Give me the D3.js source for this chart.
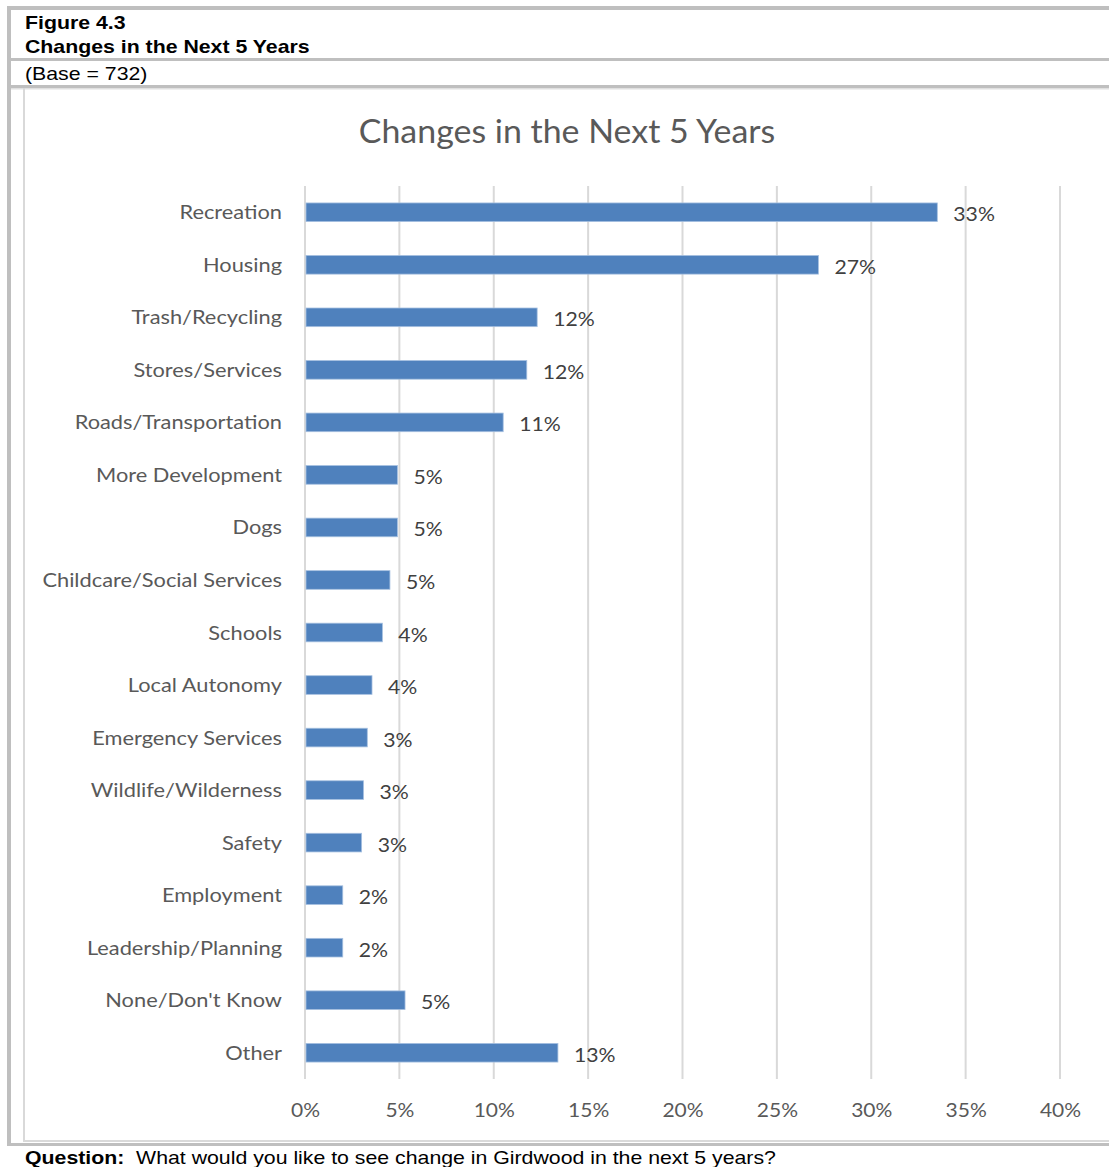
<!DOCTYPE html>
<html><head><meta charset="utf-8">
<script src="https://cdn.jsdelivr.net/npm/d3@7"></script>
<style>body{margin:0;background:#fff}svg{display:block}</style>
</head><body>
<script>
const categories = ["Recreation","Housing","Trash/Recycling","Stores/Services","Roads/Transportation","More Development","Dogs","Childcare/Social Services","Schools","Local Autonomy","Emergency Services","Wildlife/Wilderness","Safety","Employment","Leadership/Planning","None/Don't Know","Other"];
const values = [33.5,27.2,12.3,11.75,10.5,4.9,4.9,4.5,4.1,3.55,3.3,3.1,3.0,2.0,2.0,5.3,13.4];
const valueLabels = ["33%","27%","12%","12%","11%","5%","5%","5%","4%","4%","3%","3%","3%","2%","2%","5%","13%"];
const tickValues = [0,5,10,15,20,25,30,35,40];

const W=1109,H=1167;
const svg=d3.select("body").append("svg").attr("width",W).attr("height",H);

function stretch(sel,f){
  sel.each(function(){
    const l=this.getComputedTextLength();
    d3.select(this).attr("textLength",l*f).attr("lengthAdjust","spacingAndGlyphs");
  });
}

// frame lines
const g0=svg.append("g");
g0.append("rect").attr("x",7).attr("y",6).attr("width",W-7).attr("height",4).attr("fill","#bfbfbf");
g0.append("rect").attr("x",7).attr("y",58).attr("width",W-7).attr("height",3).attr("fill","#bfbfbf");
g0.append("rect").attr("x",7).attr("y",85).attr("width",W-7).attr("height",3).attr("fill","#bfbfbf");
g0.append("rect").attr("x",11).attr("y",88).attr("width",W-11).attr("height",1.5).attr("fill","#e0e0e0");
g0.append("rect").attr("x",7).attr("y",6).attr("width",4).attr("height",1140).attr("fill","#bfbfbf");
g0.append("rect").attr("x",23).attr("y",88).attr("width",2).attr("height",1052).attr("fill","#d9d9d9");
g0.append("rect").attr("x",23).attr("y",1140).attr("width",W-23).attr("height",2).attr("fill","#d9d9d9");
g0.append("rect").attr("x",7).attr("y",1143).attr("width",W-7).attr("height",3).attr("fill","#bfbfbf");

const hdr="'Liberation Sans', Arial, sans-serif";
const h1=svg.append("text").attr("x",25).attr("y",29).attr("font-family",hdr).attr("font-weight","bold").attr("font-size",18.5).attr("fill","#000").text("Figure 4.3");
const h2=svg.append("text").attr("x",25).attr("y",53).attr("font-family",hdr).attr("font-weight","bold").attr("font-size",18.5).attr("fill","#000").text("Changes in the Next 5 Years");
const h3=svg.append("text").attr("x",25).attr("y",80).attr("font-family",hdr).attr("font-size",18.5).attr("fill","#000").text("(Base = 732)");
stretch(h1,1.15); stretch(h2,1.15); stretch(h3,1.15);
const q=svg.append("text").attr("x",25).attr("y",1164).attr("font-family",hdr).attr("font-size",18.5).attr("fill","#000");
q.append("tspan").attr("font-weight","bold").text("Question:");
q.append("tspan").text("\u00a0 What would you like to see change in Girdwood in the next 5 years?");
stretch(q,1.15);

const cf="Lato, 'Open Sans', sans-serif";
const title=svg.append("text").attr("x",567).attr("y",143).attr("text-anchor","middle").attr("font-family",cf).attr("font-size",32).attr("fill","#595959").text("Changes in the Next 5 Years");
stretch(title,1.06);

const x=d3.scaleLinear().domain([0,40]).range([305,1060]);
const y=d3.scaleBand().domain(categories).range([186,1079]).paddingInner(0.645).paddingOuter(0.3225);

// grid
svg.append("g").selectAll("line").data(tickValues).join("line")
  .attr("x1",d=>x(d)).attr("x2",d=>x(d)).attr("y1",186).attr("y2",1079)
  .attr("stroke","#d9d9d9").attr("stroke-width",2);

// bars
svg.append("g").selectAll("rect").data(values).join("rect")
  .attr("x",x(0)+1).attr("y",(d,i)=>y(categories[i]))
  .attr("width",d=>x(d)-x(0)-1).attr("height",y.bandwidth())
  .attr("fill","#4f81bd").attr("stroke","#a6c0e0").attr("stroke-width",0.8);

// value labels
const vl=svg.append("g").selectAll("text").data(values).join("text")
  .attr("x",d=>x(d)+16).attr("y",(d,i)=>y(categories[i])+y.bandwidth()/2+9)
  .attr("font-family",cf).attr("font-size",20).attr("fill","#404040")
  .text((d,i)=>valueLabels[i]);
stretch(vl,1.06);

// category axis
const ya=svg.append("g").attr("transform","translate(305,0)").call(d3.axisLeft(y).tickSize(0).tickPadding(23));
ya.select(".domain").remove();
ya.selectAll("text").attr("font-family",cf).attr("font-size",20).attr("fill","#595959").attr("dy","0.35em");
stretch(ya.selectAll("text"),1.09);

// x axis labels
const xa=svg.append("g").attr("transform","translate(0,1079)").call(d3.axisBottom(x).tickValues(tickValues).tickSize(0).tickPadding(24).tickFormat(d=>d+"%"));
xa.select(".domain").remove();
xa.selectAll("text").attr("font-family",cf).attr("font-size",20).attr("fill","#595959");
stretch(xa.selectAll("text"),1.05);
</script>
</body></html>
